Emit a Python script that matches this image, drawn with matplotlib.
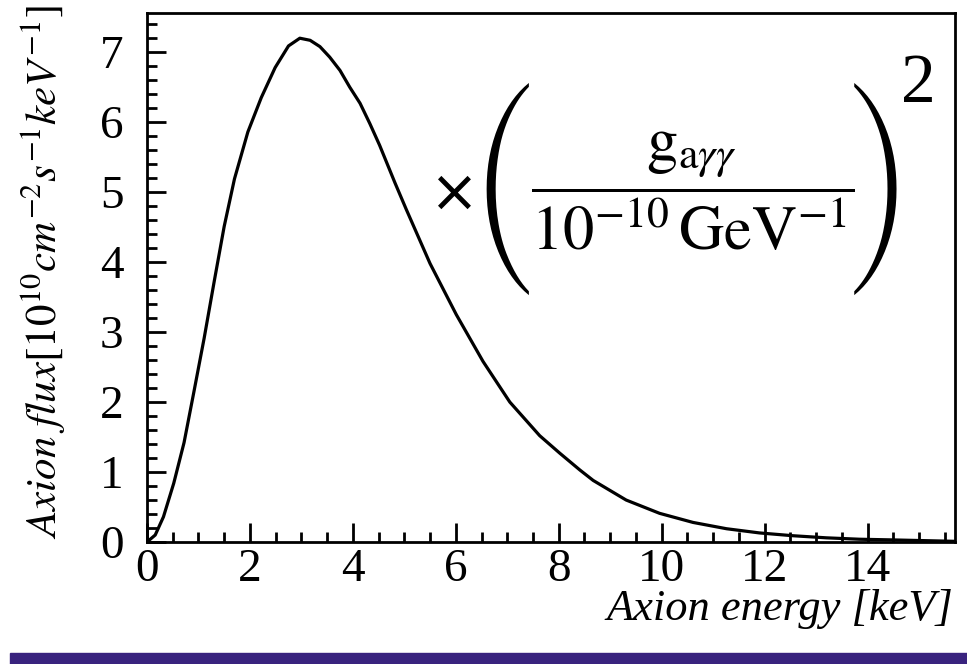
import matplotlib
matplotlib.use('Agg')
import matplotlib.pyplot as plt
from matplotlib.patches import Rectangle
from matplotlib.ticker import MultipleLocator

# curve (energy in keV, flux in 1e10 /cm2/s/keV)
energy = [0.0, 0.16, 0.32, 0.52, 0.72, 0.91, 1.11, 1.31, 1.50, 1.70,
          1.96, 2.22, 2.49, 2.75, 2.97, 3.17, 3.36, 3.55, 3.75, 3.94,
          4.14, 4.33, 4.52, 4.82, 5.04, 5.50, 6.01, 6.53, 7.05, 7.63,
          8.02, 8.41, 8.67, 9.31, 9.96, 10.61, 11.26, 11.90, 12.55,
          13.20, 13.84, 14.50, 15.70]
flux = [0.0, 0.10, 0.36, 0.84, 1.42, 2.14, 2.91, 3.74, 4.51, 5.19,
        5.86, 6.35, 6.78, 7.09, 7.20, 7.17, 7.08, 6.93, 6.74, 6.50,
        6.27, 5.98, 5.67, 5.13, 4.75, 3.98, 3.25, 2.58, 2.00, 1.52,
        1.27, 1.03, 0.88, 0.60, 0.41, 0.28, 0.19, 0.13, 0.09,
        0.06, 0.04, 0.03, 0.01]

xticks = [0, 2, 4, 6, 8, 10, 12, 14]
yticks = [0, 1, 2, 3, 4, 5, 6, 7]

plt.rcParams['font.family'] = 'Liberation Serif'
plt.rcParams['mathtext.fontset'] = 'stix'

fig = plt.figure(figsize=(9.67, 6.64), dpi=100)
ax = fig.add_axes([0.152, 0.1837, 0.8356, 0.7967])

ax.plot(energy, flux, color='black', lw=2.3)
ax.set_xlim(0, 15.7)
ax.set_ylim(0, 7.56)

ax.set_xticks(xticks)
ax.set_yticks(yticks)
ax.xaxis.set_minor_locator(MultipleLocator(0.5))
ax.yaxis.set_minor_locator(MultipleLocator(0.2))
ax.tick_params(which='both', direction='in', top=False, right=False,
               width=2.0, labelsize=34)
ax.tick_params(which='major', length=14)
ax.tick_params(which='minor', length=7)
ax.tick_params(axis='x', pad=5)
ax.tick_params(axis='y', pad=17)
for s in ax.spines.values():
    s.set_linewidth(2.0)

ax.set_ylabel(r'$\mathit{Axion\ flux[10^{10}cm^{-2}s^{-1}keV^{-1}]}$',
              fontsize=31)
ax.yaxis.set_label_coords(-0.098, 0.51)
fig.text(0.9855, 0.0663, 'Axion energy [keV]', style='italic', fontsize=32,
         ha='right', va='baseline')

# coupling factor annotation
fig.text(0.470, 0.708, '\u00d7', family='DejaVu Sans', fontsize=42,
         ha='center', va='center')
fig.text(0.523, 0.715, '(', family='STIXSizeFourSym', fontsize=50,
         ha='center', va='center')
fig.text(0.716, 0.712,
         r'$\dfrac{\mathrm{g}_{\mathrm{a}\gamma\gamma}}'
         r'{10^{-10}\,\mathrm{GeV}^{-1}}$',
         fontsize=45, ha='center', va='center')
fig.text(0.907, 0.715, ')', family='STIXSizeFourSym', fontsize=50,
         ha='center', va='center')
fig.text(0.950, 0.872, '2', fontsize=50, ha='center', va='center')

fig.patches.append(Rectangle((0.0103, 0.0), 0.99, 0.0166,
                             transform=fig.transFigure,
                             color='#39237e', zorder=0))

fig.savefig('out.png', dpi=100)
